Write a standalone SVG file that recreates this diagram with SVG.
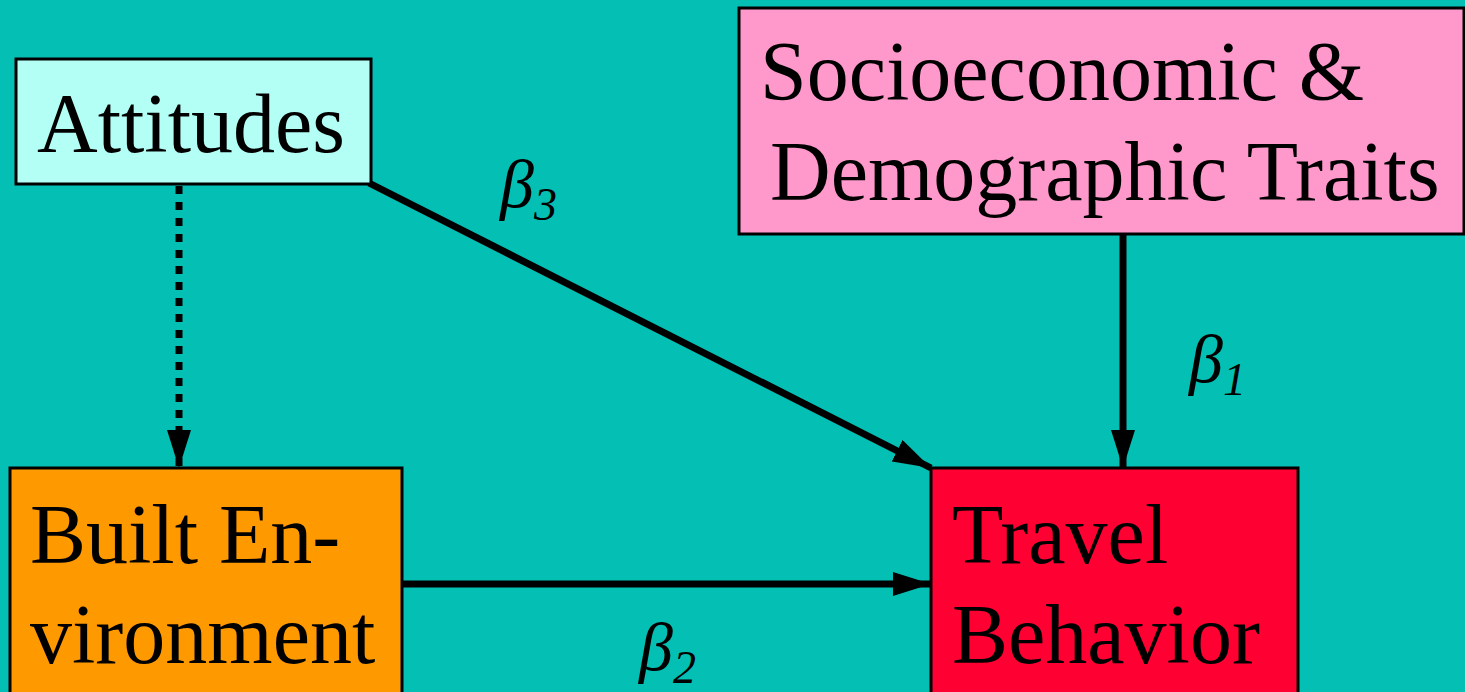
<svg xmlns="http://www.w3.org/2000/svg" width="1465" height="692" viewBox="0 0 1465 692">
<defs>
<style>
.box{stroke:#000;stroke-width:3}
.lbl{font-family:"Liberation Serif","Times New Roman",serif;font-size:84px;fill:#000}
.beta{font-family:"Liberation Serif","Times New Roman",serif;font-style:italic;font-size:68px;fill:#000}
.sub{font-size:46px}
.conn{stroke:#000;stroke-width:7;fill:none}
</style>
<marker id="ah" markerUnits="userSpaceOnUse" viewBox="0 0 38 24" refX="38" refY="12" markerWidth="38" markerHeight="24" orient="auto">
<path d="M0,0 L38,12 L0,24 Z" fill="#000"/>
</marker>
</defs>
<rect width="1465" height="692" fill="#04BFB3"/>
<g id="connectors">
<line class="conn" x1="179" y1="186" x2="179" y2="468" stroke-dasharray="8 8" marker-end="url(#ah)"/>
<line class="conn" x1="369" y1="183" x2="931" y2="468" marker-end="url(#ah)"/>
<line class="conn" x1="1123" y1="233" x2="1123" y2="468" marker-end="url(#ah)"/>
<line class="conn" x1="402" y1="584" x2="931" y2="584" marker-end="url(#ah)"/>
<text class="beta" x="500" y="207">β<tspan class="sub" dy="13">3</tspan></text>
<text class="beta" x="1189" y="382">β<tspan class="sub" dy="13">1</tspan></text>
<text class="beta" x="639" y="670">β<tspan class="sub" dy="13">2</tspan></text>
</g>
<g id="attitudes">
<rect class="box" x="16" y="59" width="355" height="125" fill="#B3FFF5"/>
<text class="lbl" x="37" y="152">Attitudes</text>
</g>
<g id="socio">
<rect class="box" x="739" y="8" width="725" height="226" fill="#FF99CC"/>
<text class="lbl" x="760" y="100">Socioeconomic &amp;</text>
<text class="lbl" x="770" y="200">Demographic Traits</text>
</g>
<g id="built">
<rect class="box" x="10" y="468" width="392" height="240" fill="#FF9900"/>
<text class="lbl" x="30" y="563">Built En-</text>
<text class="lbl" x="30" y="663">vironment</text>
</g>
<g id="travel">
<rect class="box" x="931" y="468" width="367" height="240" fill="#FF0033"/>
<text class="lbl" x="952" y="563">Travel</text>
<text class="lbl" x="952" y="663">Behavior</text>
</g>
</svg>
